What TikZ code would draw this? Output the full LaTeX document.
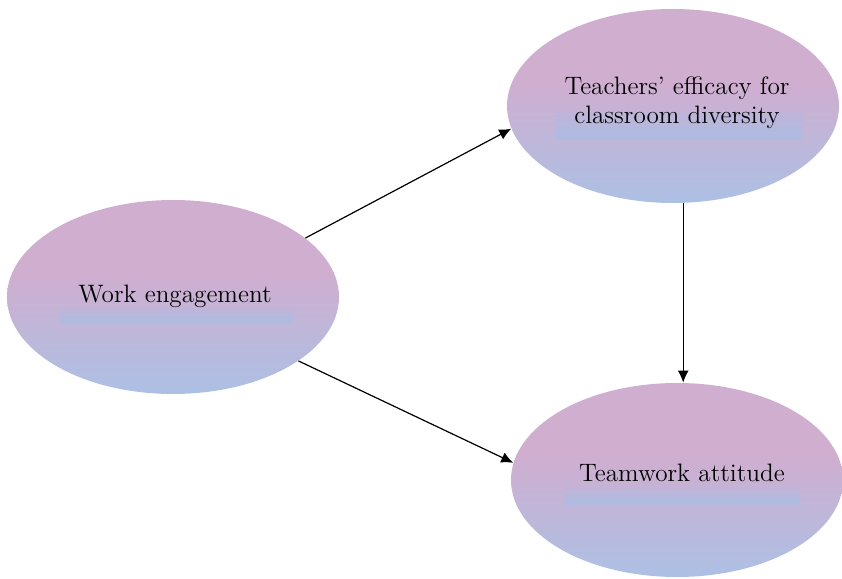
\documentclass[tikz,border=0pt]{standalone}
\usepackage{tikz}
\usetikzlibrary{calc}
\usetikzlibrary{arrows.meta}
\usetikzlibrary{shapes.geometric}

\definecolor{ovalpink}{RGB}{207,174,208}
\definecolor{ovalblue}{RGB}{172,192,228}
\definecolor{barblue}{RGB}{172,188,226}

\pgfdeclareverticalshading{ovalfade}{100bp}{color(0bp)=(ovalblue); color(25bp)=(ovalblue); color(56bp)=(ovalpink); color(100bp)=(ovalpink)}

\begin{document}
\begin{tikzpicture}[x=0.5pt,y=0.5pt,
  construct/.style={ellipse,inner sep=0pt,minimum width=166pt,minimum height=97pt,shading=ovalfade},
  name text/.style={align=center,inner sep=0pt,font=\fontsize{12.6}{14.5}\selectfont},
  text bar/.style={top color=barblue!45!ovalpink,bottom color=barblue},
  effect/.style={-{Latex[length=6pt,width=5.5pt]},line width=0.6pt}]

\useasboundingbox (0,0) rectangle (842,579);

\node[construct] (work) at (173,282) {};
\node[construct] (efficacy) at (673,473) {};
\node[construct] (teamwork) at (677,99) {};

\fill[text bar] ($(work)+(-113,-11)$) rectangle ($(work)+(120,-26)$);
\fill[text bar] ($(efficacy)+(-118,-6)$) rectangle ($(efficacy)+(129,-34)$);
\fill[text bar] ($(teamwork)+(-112,-8)$) rectangle ($(teamwork)+(123,-25)$);

\node[name text] (work text) at (175,283) {Work engagement};
\node[name text] (efficacy text) at (677,476) {Teachers' efficacy for\\classroom diversity};
\node[name text] (teamwork text) at (682,106) {Teamwork attitude};

\draw[effect] (work.24) -- (efficacy.188);
\draw[effect] (work.-27) -- (teamwork.174);
\draw[effect] (efficacy.-84) -- (efficacy.-84 |- teamwork.north);
\end{tikzpicture}
\end{document}
